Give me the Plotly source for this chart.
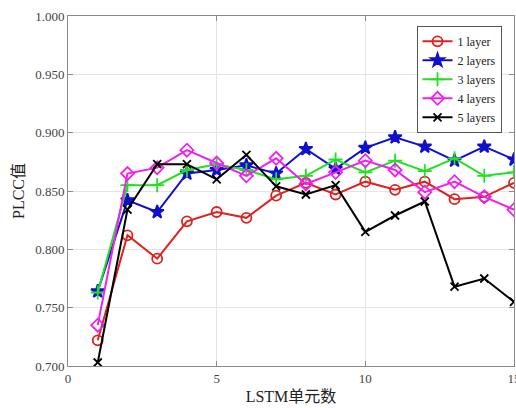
import plotly.graph_objects as go

units = list(range(1, 16))
layer1 = [0.722, 0.812, 0.792, 0.824, 0.832, 0.827, 0.846, 0.857, 0.847, 0.858, 0.851, 0.858, 0.843, 0.845, 0.857]
layer2 = [0.764, 0.842, 0.832, 0.865, 0.868, 0.872, 0.865, 0.886, 0.869, 0.887, 0.896, 0.888, 0.876, 0.888, 0.877]
layer3 = [0.763, 0.855, 0.855, 0.868, 0.873, 0.868, 0.860, 0.863, 0.877, 0.866, 0.876, 0.867, 0.878, 0.863, 0.866]
layer4 = [0.735, 0.865, 0.870, 0.885, 0.874, 0.863, 0.878, 0.856, 0.866, 0.876, 0.868, 0.849, 0.858, 0.845, 0.834]
layer5 = [0.703, 0.834, 0.873, 0.873, 0.860, 0.881, 0.854, 0.847, 0.855, 0.815, 0.829, 0.841, 0.768, 0.775, 0.755]

names = ["1 layer", "2 layers", "3 layers", "4 layers", "5 layers"]
series = [layer1, layer2, layer3, layer4, layer5]
colors = ["#dd2222", "#1010cc", "#22e022", "#ee22ee", "#000000"]
symbols = ["circle-open", "star", "cross-thin-open", "diamond-open", "x-thin-open"]
msizes = [10, 10, 10, 10, 8]

SERIF = "Liberation Serif, Times New Roman, serif"
fig = go.Figure()
for n, s, c, sym, ms in zip(names, series, colors, symbols, msizes):
    fig.add_trace(go.Scatter(
        x=units, y=s, name=n, mode="lines+markers",
        line=dict(color=c, width=2),
        marker=dict(symbol=sym, size=ms, color=c, line=dict(color=c, width=1.8)),
    ))

axis_common = dict(
    showgrid=True, gridcolor="#e4e4e4", gridwidth=1,
    showline=True, linecolor="#8a8a8a", linewidth=1, mirror="ticks",
    ticks="inside", ticklen=5, tickcolor="#8a8a8a",
    zeroline=False, ticklabeloverflow="allow", automargin=False,
    tickfont=dict(family=SERIF, size=13, color="#444444"),
)

fig.update_layout(
    width=516, height=408,
    margin=dict(l=68, r=2, t=16, b=42),
    paper_bgcolor="white", plot_bgcolor="white",
    font=dict(family=SERIF + ", Noto Sans CJK SC", color="#333333"),
    xaxis=dict(range=[0, 15], tickvals=[0, 5, 10, 15], ticktext=["0", "5", "10", "15"],
               title=dict(text="LSTM单元数", standoff=6,
                          font=dict(family="Liberation Serif, Noto Sans CJK SC", size=16, color="#222222")),
               **axis_common),
    yaxis=dict(range=[0.7, 1.0], tickvals=[0.70, 0.75, 0.80, 0.85, 0.90, 0.95, 1.00],
               ticktext=["0.700", "0.750", "0.800", "0.850", "0.900", "0.950", "1.000"],
               title=dict(text="PLCC值", standoff=6,
                          font=dict(family="Liberation Serif, Noto Sans CJK SC", size=16, color="#222222")),
               **axis_common),
    legend=dict(x=0.972, y=0.972, xanchor="right", yanchor="top",
                bgcolor="white", bordercolor="#555555", borderwidth=1,
                font=dict(family=SERIF, size=12, color="#222222"),
                tracegroupgap=0, itemwidth=30),
    showlegend=True,
)

fig.write_html("out.html")
